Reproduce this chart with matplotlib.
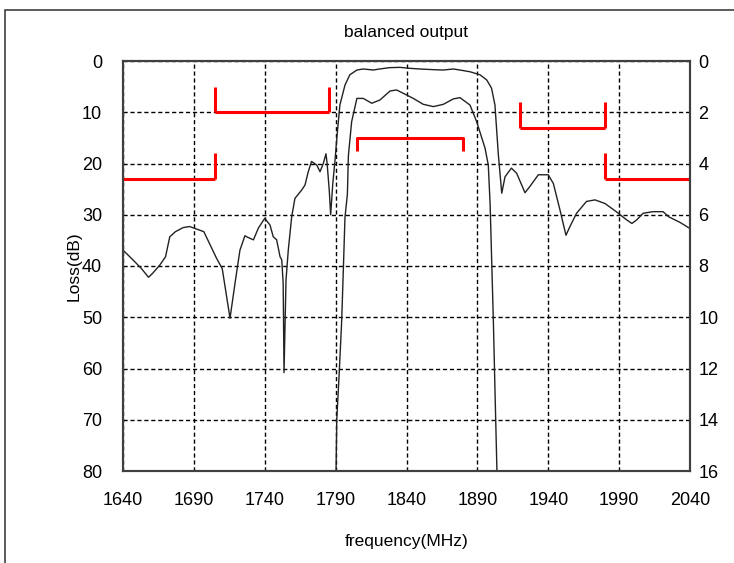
import matplotlib
matplotlib.use("Agg")
import matplotlib.pyplot as plt
from matplotlib.patches import Rectangle

plt.rcParams['font.family'] = ['Liberation Sans', 'DejaVu Sans']

# wide-band response (left axis, dB)
wide_f = [1640, 1647, 1653, 1658, 1661, 1666, 1670, 1673, 1677, 1682.5, 1687, 1692, 1697, 1701,
          1706, 1710, 1715.5, 1719, 1722.5, 1726, 1728, 1732, 1735.5, 1740, 1743.7, 1746, 1748.4,
          1750.8, 1752, 1753, 1753.6, 1755, 1756.6, 1759, 1761.3, 1766, 1768.4, 1770.7, 1773,
          1776.7, 1779, 1781.3, 1783.2, 1784, 1785.5, 1786.5, 1788, 1789.6, 1790.8, 1793, 1796.6,
          1800, 1805, 1809.5, 1816.6, 1821, 1828, 1835.4, 1842.5, 1849.5, 1859, 1866, 1873, 1877.7,
          1884.8, 1891.9, 1896.6, 1900, 1902.4, 1904.8, 1907.2, 1909.5, 1914, 1917.7, 1923.6, 1927,
          1933, 1940, 1943.6, 1948.3, 1952.5, 1955.3, 1960, 1967, 1973, 1980, 1988, 1995.3, 1999,
          2002.4, 2007, 2014, 2021, 2025, 2033, 2039.5]
wide_loss = [36.9, 38.8, 40.5, 42.2, 41.4, 39.8, 38.2, 34.3, 33.3, 32.5, 32.3, 32.8, 33.3, 35.6,
             38.5, 40.5, 50.2, 43.4, 36.9, 34.1, 34.4, 34.9, 32.6, 30.7, 32.0, 34.3, 34.9,
             38.2, 38.8, 43.4, 60.8, 42.7, 36.9, 30.4, 26.8, 25.2, 24.2, 21.6, 19.6,
             20.3, 21.6, 20.0, 18.1, 20.0, 25.2, 30.0, 23.9, 19.3, 15.2, 8.6, 4.7,
             2.7, 1.76, 1.56, 1.76, 1.56, 1.3, 1.24, 1.43, 1.56, 1.69, 1.76, 1.56, 1.76,
             2.1, 2.7, 3.7, 5.3, 8.6, 18.3, 25.8, 22.6, 20.9, 21.9, 25.7, 24.5,
             22.2, 22.2, 23.9, 29.1, 34.0, 32.3, 29.7, 27.4, 27.1, 27.8, 29.4, 31.0, 31.7,
             31.0, 29.7, 29.4, 29.4, 30.4, 31.5, 32.6]

# passband detail (right axis, dB)
pass_f = [1790.3, 1790.8, 1792.6, 1794.3, 1795.4, 1796.6, 1798.3, 1799, 1801.3, 1805, 1809.5,
          1815.5, 1821.3, 1828.4, 1833, 1837.7, 1844.8, 1851.8, 1859, 1866, 1873, 1877.7,
          1884.8, 1889.5, 1895.4, 1897.7, 1899, 1900, 1901.3, 1902.4, 1903.8]
pass_loss = [16.0, 14.0, 12.1, 10.1, 8.2, 6.1, 5.2, 3.7, 2.37, 1.46, 1.46,
             1.65, 1.52, 1.17, 1.13, 1.26, 1.46, 1.69, 1.78, 1.69, 1.48, 1.43,
             1.72, 2.37, 3.4, 4.06, 5.6, 7.6, 10.2, 12.8, 16.0]

# spec masks: (start MHz, stop MHz, level dB, tick-end dB)
reject_masks = [(1640, 1705, 23, None, 18), (1705, 1785, 10, 5, 5),
                (1920, 1980, 13, 8, 8), (1980, 2040, 23, 18, None)]
pass_mask = (1805, 1880, 3, 3.5)

x_ticks = [1640, 1690, 1740, 1790, 1840, 1890, 1940, 1990, 2040]
left_ticks = [0, 10, 20, 30, 40, 50, 60, 70, 80]
right_ticks = [0, 2, 4, 6, 8, 10, 12, 14, 16]

fig = plt.figure(figsize=(7.34, 5.63), dpi=100)
fig.patches.append(Rectangle((5 / 734, -0.1), 1.2, 1 - 10 / 563 + 0.1, transform=fig.transFigure,
                             fill=False, edgecolor='#404040', lw=1.2))
ax = fig.add_axes([123 / 734, 1 - 471 / 563, 567 / 734, 410 / 563])
ax2 = ax.twinx()

ax.plot(wide_f, wide_loss, color='#222222', lw=1.0)
ax2.plot(pass_f, pass_loss, color='#222222', lw=1.0)

red = dict(color='#ff0000', lw=2.2, solid_capstyle='butt')
for f0, f1, lev, t0, t1 in reject_masks:
    ax.plot([f0, f1], [lev, lev], **red)
    if t0 is not None:
        ax.plot([f0, f0], [lev, t0], **red)
    if t1 is not None:
        ax.plot([f1, f1], [lev, t1], **red)
f0, f1, lev, tend = pass_mask
ax2.plot([f0, f0, f1, f1], [tend, lev, lev, tend], **red)

ax.set_xlim(1640, 2040)
ax.set_ylim(80, 0)
ax2.set_ylim(16, 0)
ax.set_xticks(x_ticks)
ax.set_yticks(left_ticks)
ax2.set_yticks(right_ticks)
ax.grid(True, color='black', linestyle=(0, (3, 2)), lw=1.0)
ax.tick_params(axis='x', length=0, pad=15, labelsize=13)
ax.tick_params(axis='y', length=0, pad=15, labelsize=13)
ax2.tick_params(axis='y', length=0, pad=6, labelsize=13)
for a in (ax, ax2):
    for s in a.spines.values():
        s.set_color('#404040')
        s.set_linewidth(1.5)

ax.set_title('balanced output', fontsize=12.5, pad=17)
ax.set_xlabel('frequency(MHz)', fontsize=12.5, labelpad=18)
ax.set_ylabel('Loss(dB)', fontsize=12.5, labelpad=0)

fig.savefig('out.png', dpi=100)
